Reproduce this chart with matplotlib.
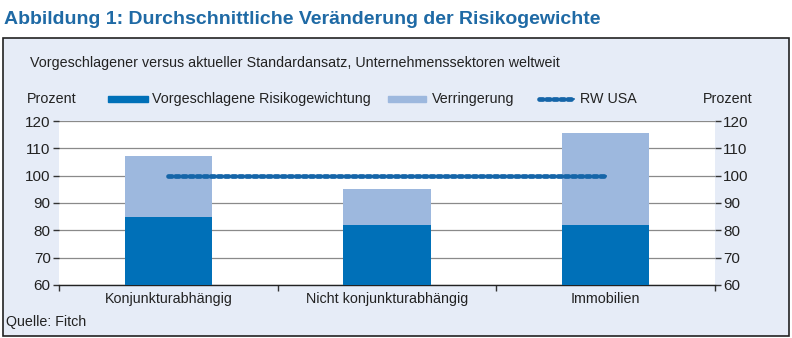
import matplotlib
matplotlib.use("Agg")
import matplotlib.pyplot as plt
from matplotlib.patches import Rectangle
from matplotlib.lines import Line2D
import numpy as np

plt.rcParams['font.family'] = ['Liberation Sans', 'DejaVu Sans']

categories = ["Konjunkturabhängig", "Nicht konjunkturabhängig", "Immobilien"]
proposed = [85, 82, 82]
reduction_top = [107.2, 95.1, 115.5]
rw_usa = [100, 100, 100]
yticks = [60, 70, 80, 90, 100, 110, 120]
legend_labels = ["Vorgeschlagene Risikogewichtung", "Verringerung", "RW USA"]

dark = "#0070b8"
light = "#9db8de"
line_col = "#1565a8"
bg = "#e6ecf7"
title_col = "#1f6aa5"
txt = "#222222"
fs = 10.3

W, H = 792, 338
fig = plt.figure(figsize=(W / 100, H / 100), dpi=100)
fig.patch.set_facecolor("white")

# framed box
fig.patches.append(Rectangle((3 / W, 2 / H), 786 / W, 298 / H, transform=fig.transFigure,
                             facecolor=bg, edgecolor="#222222", linewidth=1.2, zorder=-10))

fig.text(4 / W, 1 - 20 / H, "Abbildung 1: Durchschnittliche Veränderung der Risikogewichte",
         fontsize=14, fontweight="bold", color=title_col, va="center", ha="left")
fig.text(30 / W, 1 - 63 / H, "Vorgeschlagener versus aktueller Standardansatz, Unternehmenssektoren weltweit",
         fontsize=fs, color=txt, va="center", ha="left")
fig.text(27 / W, 1 - 99 / H, "Prozent", fontsize=fs, color=txt, va="center", ha="left")
fig.text(752 / W, 1 - 99 / H, "Prozent", fontsize=fs, color=txt, va="center", ha="right")
fig.text(6 / W, 1 - 322 / H, "Quelle: Fitch", fontsize=fs, color=txt, va="center", ha="left")

ax = fig.add_axes([59 / W, 53 / H, 656 / W, 164 / H])
ax.set_zorder(1)
ax.set_facecolor("white")
x = np.arange(len(categories))
bw = 0.4
ax.bar(x, proposed, width=bw, color=dark, zorder=3)
ax.bar(x, np.array(reduction_top) - np.array(proposed), bottom=proposed, width=bw,
       color=light, zorder=3)
ax.plot(x, rw_usa, color=line_col, linewidth=1.2, zorder=4)
ax.plot(x, rw_usa, color=line_col, linewidth=3.4, linestyle=(0, (0.8, 0.7)),
        dash_capstyle="round", zorder=4)

ax.set_xlim(-0.5, 2.5)
ax.set_ylim(60, 120)
ax.set_yticks(yticks)
ax.grid(axis="y", color="#8a8a8a", linewidth=0.9, zorder=1)
ax.set_axisbelow(True)
for s in ["top", "right", "left"]:
    ax.spines[s].set_visible(False)
ax.spines["bottom"].set_color("#222222")
ax.spines["bottom"].set_linewidth(1.0)

ax.tick_params(axis="y", which="both", left=True, right=True, labelleft=True, labelright=True,
               length=4, width=1, color="#333333", labelsize=11, labelcolor=txt, pad=2)
ax.set_xticks(x)
ax.set_xticklabels(categories, fontsize=fs, color=txt)
ax.tick_params(axis="x", which="major", length=0, pad=5)
ax.set_xticks([-0.5, 0.5, 1.5, 2.5], minor=True)
ax.tick_params(axis="x", which="minor", length=4, width=1, color="#333333", direction="out")

# legend (manual keys)
ly = 1 - 99 / H
fig.patches.append(Rectangle((108 / W, ly - 3 / H), 40 / W, 6 / H, transform=fig.transFigure,
                             color=dark, zorder=2))
fig.text(152 / W, ly, legend_labels[0], fontsize=fs, color=txt, va="center", ha="left")
fig.patches.append(Rectangle((388 / W, ly - 3 / H), 38 / W, 6 / H, transform=fig.transFigure,
                             color=light, zorder=2))
fig.text(432 / W, ly, legend_labels[1], fontsize=fs, color=txt, va="center", ha="left")
fig.lines.append(Line2D([539 / W, 574 / W], [ly, ly], transform=fig.transFigure, color=line_col,
                        linewidth=1.2, zorder=2))
fig.lines.append(Line2D([539 / W, 574 / W], [ly, ly], transform=fig.transFigure, color=line_col,
                        linewidth=3.4, linestyle=(0, (0.8, 0.7)), dash_capstyle="round", zorder=2))
fig.text(580 / W, ly, legend_labels[2], fontsize=fs, color=txt, va="center", ha="left")

fig.savefig("out.png", dpi=100, facecolor=fig.get_facecolor())
